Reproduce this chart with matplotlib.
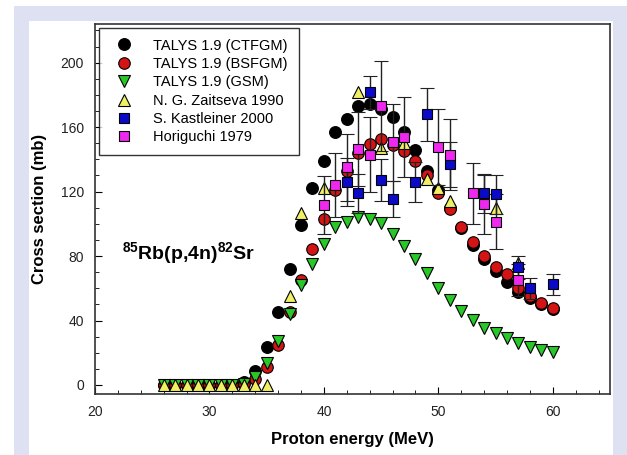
import numpy as np
import matplotlib
matplotlib.use('Agg')
import matplotlib.pyplot as plt
from matplotlib.patches import Rectangle
from matplotlib.ticker import MultipleLocator

plt.rcParams['font.family'] = ['Liberation Sans', 'DejaVu Sans']
plt.rcParams['mathtext.fontset'] = 'custom'
plt.rcParams['mathtext.rm'] = 'Liberation Sans:bold'
plt.rcParams['mathtext.bf'] = 'Liberation Sans:bold'
plt.rcParams['mathtext.default'] = 'bf'

# TALYS 1.9 calculations, 26-60 MeV in 1 MeV steps
e_talys = np.arange(26, 61)
ctfgm = [0, 0, 0, 0, 0, 0, 0, 1.7, 8.5, 23.6, 45, 72, 99, 122, 139, 157, 165, 173,
         174.5, 171, 166, 157, 146, 132.5, 121, 110, 97.5, 87, 78, 71, 64, 58, 54, 50, 47]
bsfgm = [0, 0, 0, 0, 0, 0, 0, 0.8, 3.5, 11, 24.5, 45, 65, 84.5, 103, 121, 132.5, 144,
         149.5, 152.5, 149, 145, 139, 130, 119, 109, 98, 89, 80, 73, 69, 60, 55, 51, 48]
gsm = [0, 0, 0, 0, 0, 0, 0, 0.5, 5, 13.5, 27, 44, 62, 75, 87.6, 98, 101.4, 104.5,
       103, 100.4, 93.8, 86, 78.3, 69.4, 60, 52.8, 46, 40.4, 35.6, 32.5, 29, 26, 23.4, 21.7, 20.7]

# experimental data
e_zait = [26, 27, 28, 29, 30, 31, 32, 33, 34, 35, 37, 38, 40, 43, 45, 47, 49, 50, 51, 55, 57]
s_zait = [0, 0, 0, 0, 0, 0, 0, 0, 0, 0, 55, 107, 122, 182, 147, 150, 128, 122, 114, 110, 76]

e_kast = [42, 43, 44, 45, 46, 48, 49, 51, 54, 55, 57, 58, 60]
s_kast = [126, 119, 181.5, 127, 115.5, 126, 168, 137, 119, 118.4, 73, 60, 62.5]
d_kast = [15, 12, 10, 13, 11, 12.5, 16.5, 14, 12, 12, 7, 6.5, 6.5]

e_hori = [40, 41, 42, 43, 44, 45, 46, 47, 50, 51, 53, 54, 55, 57]
s_hori = [111.8, 124, 135, 146.5, 143, 173, 150.5, 154, 147.6, 143, 119, 112, 101.4, 65]
d_hori = [18, 20, 21, 23, 23, 28, 24, 25, 23.5, 22, 19, 18.5, 17, 10]

fig = plt.figure(figsize=(6.27, 4.55), dpi=100, facecolor='white')
fig.add_artist(Rectangle((14/627, 0), 1 - 14/627, 1 - 6/455, transform=fig.transFigure,
                         facecolor='#dde1f1', edgecolor='none', zorder=-10))
fig.add_artist(Rectangle((29/627, 0), (613 - 29)/627, 1 - 21/455, transform=fig.transFigure,
                         facecolor='white', edgecolor='none', zorder=-9))

ax = fig.add_axes([95/627, 61/455, 515/627, 370/455])
ax.patch.set_alpha(0)

ms = 8.3
ax.plot(e_talys, ctfgm, 'o', color='black', mec='black', ms=ms, label='TALYS 1.9 (CTFGM)')
ax.plot(e_talys, bsfgm, 'o', color='#d41414', mec='black', mew=0.8, ms=ms, label='TALYS 1.9 (BSFGM)')
ax.plot(e_talys, gsm, 'v', color='#28c828', mec='black', mew=0.8, ms=ms, label='TALYS 1.9 (GSM)')
ax.plot(e_zait, s_zait, '^', color='#f0f064', mec='black', mew=0.8, ms=ms, label='N. G. Zaitseva 1990')
ax.errorbar(e_kast, s_kast, yerr=d_kast, fmt='s', color='#0a0ac8', mec='black', mew=0.8, ms=7,
            ecolor='#222222', elinewidth=1, capsize=5, label='S. Kastleiner 2000')
ax.errorbar(e_hori, s_hori, yerr=d_hori, fmt='s', color='#ee28ee', mec='black', mew=0.8, ms=7,
            ecolor='#222222', elinewidth=1, capsize=5, label='Horiguchi 1979')

ax.set_xlim(20, 65)
ax.set_ylim(-5.6, 224)
ax.xaxis.set_major_locator(MultipleLocator(10))
ax.xaxis.set_minor_locator(MultipleLocator(2))
ax.yaxis.set_major_locator(MultipleLocator(40))
ax.yaxis.set_minor_locator(MultipleLocator(10))
ax.tick_params(which='both', direction='in', labelsize=10, labelcolor='#222222')
ax.tick_params(which='major', length=5)
ax.tick_params(which='minor', length=3)
ax.tick_params(axis='x', pad=8)
ax.tick_params(axis='y', pad=8)
for sp in ax.spines.values():
    sp.set_linewidth(1.2)
    sp.set_color('#333333')

ax.set_xlabel('Proton energy (MeV)', fontsize=12, fontweight='bold', labelpad=9)
ax.set_ylabel('Cross section (mb)', fontsize=12, fontweight='bold', labelpad=10)

ax.text(22.4, 82, r'$^{85}$Rb(p,4n)$^{82}$Sr', fontsize=14, fontweight='bold', va='center')

handles, labels = ax.get_legend_handles_labels()
handles = [h[0] if hasattr(h, 'lines') else h for h in handles]
leg = ax.legend(handles, labels, loc='upper left', fontsize=10.5, frameon=True, fancybox=False,
                edgecolor='black', borderaxespad=0.25, handletextpad=1.0, labelspacing=0.3,
                borderpad=0.75, handlelength=2.0)
leg.get_frame().set_linewidth(1.0)

plt.savefig('out.png', dpi=100)
